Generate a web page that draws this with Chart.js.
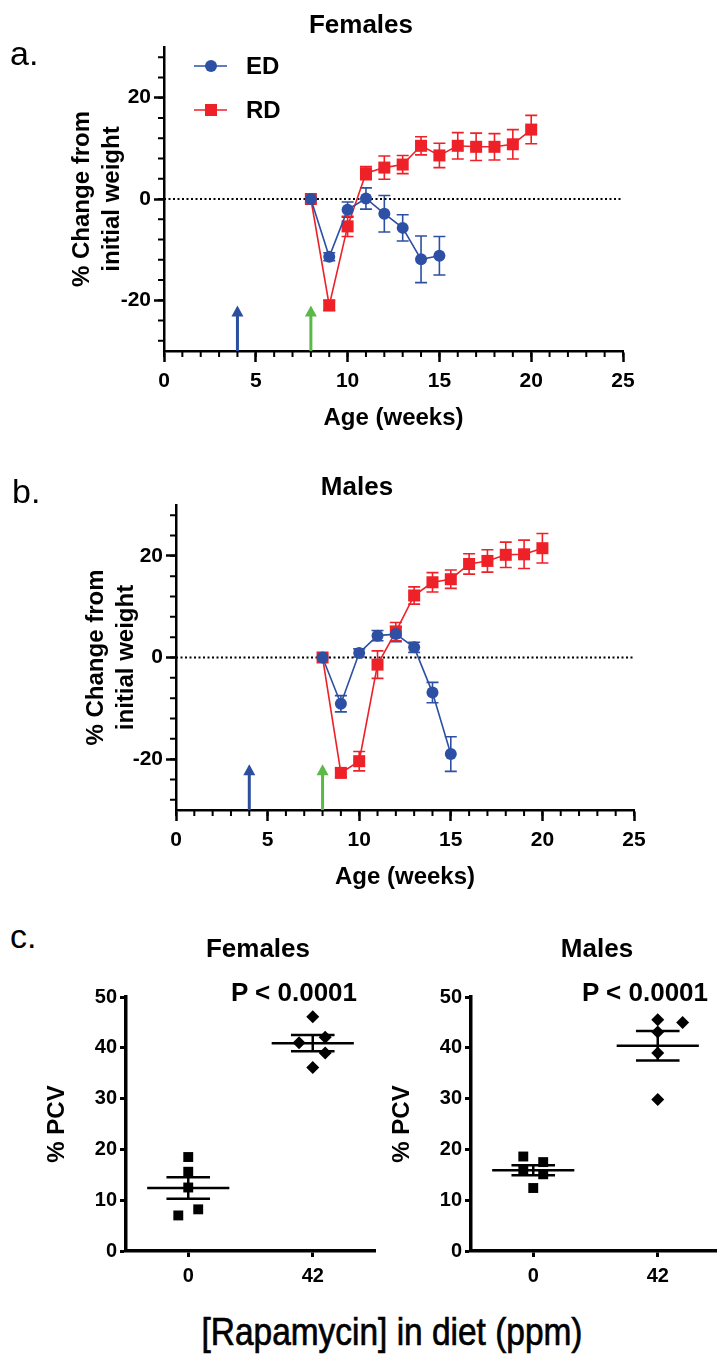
<!DOCTYPE html>
<html>
<head>
<meta charset="utf-8">
<script src="https://cdn.jsdelivr.net/npm/chart.js@4.4.0/dist/chart.umd.min.js"></script>
<style>
  html, body { margin: 0; padding: 0; background: #fff; }
  body { width: 717px; height: 1357px; position: relative; overflow: hidden; font-family: "Liberation Sans", Arial, sans-serif; color: #000; }
  canvas { position: absolute; }
  .lbl { position: absolute; line-height: 1; white-space: nowrap; }
  .panel { font-size: 34px; }
  .ttl { font-size: 26px; font-weight: bold; width: 300px; text-align: center; }
  .caption { left: 92px; top: 1313px; width: 600px; text-align: center; font-size: 38px;
             transform: scaleX(0.88); -webkit-text-stroke: 0.7px #000; }
</style>
</head>
<body>
<canvas id="femWeight" width="717" height="440" style="left:0;top:0"></canvas>
<canvas id="maleWeight" width="705" height="440" style="left:12px;top:460px"></canvas>
<canvas id="femPcv" width="380" height="340" style="left:20px;top:960px"></canvas>
<canvas id="malePcv" width="380" height="340" style="left:365px;top:960px"></canvas>

<div class="lbl panel" style="left:10px;top:36px">a.</div>
<div class="lbl ttl" style="left:211px;top:11px">Females</div>
<div class="lbl panel" style="left:12px;top:474px">b.</div>
<div class="lbl ttl" style="left:207px;top:473px">Males</div>
<div class="lbl panel" style="left:10px;top:919px">c.</div>
<div class="lbl ttl" style="left:108px;top:935px">Females</div>
<div class="lbl ttl" style="left:447px;top:935px">Males</div>
<div class="lbl ttl" style="left:144px;top:979px">P &lt; 0.0001</div>
<div class="lbl ttl" style="left:495px;top:979px">P &lt; 0.0001</div>
<div class="lbl caption">[Rapamycin] in diet (ppm)</div>

<script>
// weeks of age for each series
var edWeeks = [8, 9, 10, 11, 12, 13, 14, 15];
var rdWeeks = [8, 9, 10, 11, 12, 13, 14, 15, 16, 17, 18, 19, 20];

// % change from initial weight (mean) and SEM, females
var femaleED = [0, -11.4, -2.1, 0.1, -2.9, -5.7, -11.9, -11.2];
var femaleEDErr = [0, 0.8, 1.5, 2.1, 3.6, 2.6, 4.6, 3.8];
var femaleRD = [0, -21.0, -5.4, 5.1, 6.2, 6.8, 10.5, 8.6, 10.5, 10.3, 10.3, 10.8, 13.7];
var femaleRDErr = [0, 1.0, 2.0, 1.3, 2.3, 1.8, 1.8, 2.4, 2.6, 2.7, 2.6, 2.9, 2.8];

// same for males
var maleED = [0, -9.1, 0.9, 4.3, 4.6, 2.0, -6.9, -19.0];
var maleEDErr = [0, 1.6, 0.8, 1.0, 1.5, 1.0, 2.0, 3.4];
var maleRD = [0, -22.7, -20.4, -1.4, 5.1, 12.2, 14.8, 15.4, 18.4, 19.0, 20.2, 20.3, 21.5];
var maleRDErr = [0, 0.8, 1.9, 2.7, 1.8, 1.7, 1.9, 1.8, 2.0, 2.2, 2.5, 2.8, 2.9];

// arrows (diet start: ED at week 4, RD at week 8)
var arrowWeeks = [4, 8];
var arrowColors = ['#2a4f9e', '#5ab947'];
var arrowTip = -21;

// axis ticks for the weight panels
var ageTicks = [0, 5, 10, 15, 20, 25];
var ageMinorTicks = [0, 1, 2, 3, 4, 5, 6, 7, 8, 9, 10, 11, 12, 13, 14, 15, 16, 17, 18, 19, 20, 21, 22, 23, 24, 25];
var changeTicks = [-20, 0, 20];
var changeMinorTicks = [-28, -24, -20, -16, -12, -8, -4, 0, 4, 8, 12, 16, 20, 24, 28];

// % PCV, panel c
var doseLabels = ['0', '42'];
var pcvTicks = [0, 10, 20, 30, 40, 50];
var femaleCtrl = [18.5, 15.6, 12.5, 8.2, 7.0];
var femaleCtrlJit = [0, 0, 0, 0.08, -0.08];
var femaleRapa = [46.1, 42.1, 41.0, 39.0, 36.1];
var femaleRapaJit = [0, 0.1, -0.11, 0.1, 0];
var femaleMean = [12.4, 40.9];
var femaleSem = [2.1, 1.6];
var maleCtrl = [18.6, 17.5, 16.1, 15.1, 12.4];
var maleCtrlJit = [-0.08, 0.08, -0.08, 0.08, 0];
var maleRapa = [45.5, 45.0, 43.1, 39.0, 29.8];
var maleRapaJit = [0, 0.2, 0, 0, 0];
var maleMean = [15.9, 40.4];
var maleSem = [1.0, 2.9];

var BLUE = '#2d50a4';
var RED = '#ee2128';
var FONT = "'Liberation Sans', Arial, sans-serif";

Chart.defaults.color = '#000';
Chart.defaults.font.family = FONT;

function pts(xs, ys) {
    return xs.map(function(x, i) { return {x: x, y: ys[i]}; });
}

function fixedTicks(list) {
    return function(axis) {
        axis.ticks = list.map(function(v) { return {value: v}; });
    };
}

// vertical SEM bars for the time course
var errorBars = {
    id: 'errorBars',
    beforeDatasetsDraw: function(chart) {
        var ctx = chart.ctx;
        var ys = chart.scales.y;
        chart.data.datasets.forEach(function(ds, i) {
            if (!ds.errors) return;
            var meta = chart.getDatasetMeta(i);
            ctx.save();
            ctx.strokeStyle = ds.borderColor;
            ctx.lineWidth = 1.6;
            meta.data.forEach(function(pt, j) {
                var e = ds.errors[j];
                if (!e) return;
                var v = ds.data[j].y;
                var top = ys.getPixelForValue(v + e);
                var bot = ys.getPixelForValue(v - e);
                ctx.beginPath();
                ctx.moveTo(pt.x, top); ctx.lineTo(pt.x, bot);
                ctx.moveTo(pt.x - 6, top); ctx.lineTo(pt.x + 6, top);
                ctx.moveTo(pt.x - 6, bot); ctx.lineTo(pt.x + 6, bot);
                ctx.stroke();
            });
            ctx.restore();
        });
    }
};

// up arrows marking diet start
var arrows = {
    id: 'arrows',
    afterDatasetsDraw: function(chart) {
        var ctx = chart.ctx;
        var xs = chart.scales.x, ys = chart.scales.y;
        arrowWeeks.forEach(function(w, i) {
            var x = xs.getPixelForValue(w);
            var y0 = ys.getPixelForValue(ys.min);
            var yt = ys.getPixelForValue(arrowTip);
            ctx.save();
            ctx.strokeStyle = arrowColors[i];
            ctx.fillStyle = arrowColors[i];
            ctx.lineWidth = 3;
            ctx.beginPath();
            ctx.moveTo(x, y0); ctx.lineTo(x, yt + 8);
            ctx.stroke();
            ctx.beginPath();
            ctx.moveTo(x, yt); ctx.lineTo(x - 6, yt + 11); ctx.lineTo(x + 6, yt + 11);
            ctx.closePath();
            ctx.fill();
            ctx.restore();
        });
    }
};

// minor tick marks along both axes (every week, every 4 %)
var minorTicks = {
    id: 'minorTicks',
    afterDraw: function(chart) {
        var ctx = chart.ctx;
        var xs = chart.scales.x, ys = chart.scales.y;
        var a = chart.chartArea;
        ctx.save();
        ctx.strokeStyle = '#000';
        ctx.lineWidth = 2;
        ctx.beginPath();
        ageMinorTicks.forEach(function(v) {
            var x = xs.getPixelForValue(v);
            ctx.moveTo(x, a.bottom); ctx.lineTo(x, a.bottom + 6);
        });
        changeMinorTicks.forEach(function(v) {
            var y = ys.getPixelForValue(v);
            ctx.moveTo(a.left, y); ctx.lineTo(a.left - 6, y);
        });
        ctx.stroke();
        ctx.restore();
    }
};

// ED / RD key inside the top left of the plot
var seriesKey = {
    id: 'seriesKey',
    afterDatasetsDraw: function(chart) {
        var ctx = chart.ctx;
        var a = chart.chartArea;
        [0, 1].forEach(function(i) {
            var ds = chart.data.datasets[i];
            var y = a.top + 19 + i * 44;
            ctx.save();
            ctx.strokeStyle = ds.borderColor;
            ctx.lineWidth = 1.6;
            ctx.beginPath();
            ctx.moveTo(a.left + 30, y); ctx.lineTo(a.left + 63, y);
            ctx.stroke();
            ctx.fillStyle = ds.backgroundColor;
            Chart.helpers.drawPoint(ctx, {pointStyle: ds.pointStyle, radius: ds.pointRadius, rotation: 0, borderWidth: 0}, a.left + 47, y);
            ctx.fillStyle = '#000';
            ctx.font = 'bold 24px ' + FONT;
            ctx.textBaseline = 'middle';
            ctx.fillText(ds.label, a.left + 82, y + 1);
            ctx.restore();
        });
    }
};

// mean line with SEM whiskers for panel c
var meanSem = {
    id: 'meanSem',
    afterDatasetsDraw: function(chart, args, opts) {
        var ctx = chart.ctx;
        var xs = chart.scales.x, ys = chart.scales.y;
        ctx.save();
        ctx.strokeStyle = '#000';
        ctx.lineWidth = 2.5;
        opts.means.forEach(function(m, k) {
            var s = opts.sems[k];
            var ym = ys.getPixelForValue(m);
            var yh = ys.getPixelForValue(m + s);
            var yl = ys.getPixelForValue(m - s);
            var xc = xs.getPixelForValue(k);
            ctx.beginPath();
            ctx.moveTo(xs.getPixelForValue(k - 0.33), ym); ctx.lineTo(xs.getPixelForValue(k + 0.33), ym);
            ctx.moveTo(xs.getPixelForValue(k - 0.175), yh); ctx.lineTo(xs.getPixelForValue(k + 0.175), yh);
            ctx.moveTo(xs.getPixelForValue(k - 0.175), yl); ctx.lineTo(xs.getPixelForValue(k + 0.175), yl);
            ctx.moveTo(xc, yh); ctx.lineTo(xc, yl);
            ctx.stroke();
        });
        ctx.restore();
    }
};

function timeChart(id, ed, edErr, rd, rdErr, g, withKey) {
    var plugins = [errorBars, arrows, minorTicks];
    if (withKey) plugins.push(seriesKey);
    return new Chart(document.getElementById(id), {
        type: 'scatter',
        data: {
            datasets: [{
                label: 'ED', data: pts(edWeeks, ed), errors: edErr, showLine: true,
                borderColor: BLUE, backgroundColor: BLUE, borderWidth: 1.6,
                pointStyle: 'circle', pointRadius: 6, pointHoverRadius: 6, pointBorderWidth: 0, order: 1
            }, {
                label: 'RD', data: pts(rdWeeks, rd), errors: rdErr, showLine: true,
                borderColor: RED, backgroundColor: RED, borderWidth: 1.6,
                pointStyle: 'rect', pointRadius: 8.5, pointHoverRadius: 8.5, pointBorderWidth: 0, order: 2
            }, {
                label: 'zero', data: [{x: 0, y: 0}, {x: 25, y: 0}], showLine: true,
                borderColor: '#000', borderWidth: 2, borderDash: [2, 2.5], pointRadius: 0, order: 3
            }]
        },
        options: {
            responsive: false,
            animation: false,
            layout: {padding: {top: g.top, right: g.right, left: 0, bottom: 0}},
            plugins: {legend: {display: false}, tooltip: {enabled: false}},
            scales: {
                x: {
                    type: 'linear', min: 0, max: 25,
                    afterBuildTicks: fixedTicks(ageTicks),
                    afterFit: function(s) { s.height = g.xh; },
                    grid: {drawOnChartArea: false, tickLength: 11, tickWidth: 2.5, tickColor: '#000'},
                    border: {color: '#000', width: 2.5},
                    ticks: {color: '#000', padding: 7, maxRotation: 0, autoSkip: false, font: {size: 21, weight: 'bold'}},
                    title: {display: true, text: 'Age (weeks)', color: '#000',
                        font: {size: 24, weight: 'bold', lineHeight: 1.2}, padding: {top: 0, bottom: g.xtb}}
                },
                y: {
                    type: 'linear', min: -30, max: 30,
                    afterBuildTicks: fixedTicks(changeTicks),
                    afterFit: function(s) { s.width = g.yw; },
                    grid: {drawOnChartArea: false, tickLength: 10, tickWidth: 2.5, tickColor: '#000'},
                    border: {color: '#000', width: 2.5},
                    ticks: {color: '#000', padding: 3, font: {size: 21, weight: 'bold'}},
                    title: {display: true, text: ['% Change from', 'initial weight'], color: '#000',
                        font: {size: 24, weight: 'bold', lineHeight: 1.25}, padding: {top: g.ytp, bottom: 0}}
                }
            }
        },
        plugins: plugins
    });
}

function pcvChart(id, ctrl, ctrlJit, rapa, rapaJit, means, sems) {
    return new Chart(document.getElementById(id), {
        type: 'scatter',
        data: {
            datasets: [{
                label: '0 ppm', data: ctrl.map(function(v, i) { return {x: 0 + ctrlJit[i], y: v}; }),
                backgroundColor: '#000', borderColor: '#000', pointStyle: 'rect',
                pointRadius: 7, pointHoverRadius: 7, pointBorderWidth: 0
            }, {
                label: '42 ppm', data: rapa.map(function(v, i) { return {x: 1 + rapaJit[i], y: v}; }),
                backgroundColor: '#000', borderColor: '#000', pointStyle: 'rectRot',
                pointRadius: 6.5, pointHoverRadius: 6.5, pointBorderWidth: 0
            }]
        },
        options: {
            responsive: false,
            animation: false,
            layout: {padding: {top: 37, right: 25, left: 0, bottom: 0}},
            plugins: {legend: {display: false}, tooltip: {enabled: false}, meanSem: {means: means, sems: sems}},
            scales: {
                x: {
                    type: 'linear', min: -0.5, max: 1.5,
                    afterBuildTicks: fixedTicks([0, 1]),
                    afterFit: function(s) { s.height = 49; },
                    grid: {drawOnChartArea: false, tickLength: 6, tickWidth: 3, tickColor: '#000'},
                    border: {color: '#000', width: 3.5},
                    ticks: {color: '#000', padding: 7, maxRotation: 0, font: {size: 20, weight: 'bold'},
                        callback: function(v) { return doseLabels[v]; }}
                },
                y: {
                    type: 'linear', min: 0, max: 50,
                    afterBuildTicks: fixedTicks(pcvTicks),
                    afterFit: function(s) { s.width = 106; },
                    grid: {drawOnChartArea: false, tickLength: 6, tickWidth: 3, tickColor: '#000'},
                    border: {color: '#000', width: 3.5},
                    ticks: {color: '#000', padding: 3, font: {size: 20, weight: 'bold'}},
                    title: {display: true, text: '% PCV', color: '#000',
                        font: {size: 24, weight: 'bold', lineHeight: 1.25}, padding: {top: 22, bottom: 0}}
                }
            }
        },
        plugins: [meanSem]
    });
}

timeChart('femWeight', femaleED, femaleEDErr, femaleRD, femaleRDErr,
    {top: 47, right: 94, yw: 164, xh: 89, ytp: 67, xtb: 7.6}, true);
timeChart('maleWeight', maleED, maleEDErr, maleRD, maleRDErr,
    {top: 45, right: 83, yw: 164, xh: 90, ytp: 69, xtb: 8.6}, false);
pcvChart('femPcv', femaleCtrl, femaleCtrlJit, femaleRapa, femaleRapaJit, femaleMean, femaleSem);
pcvChart('malePcv', maleCtrl, maleCtrlJit, maleRapa, maleRapaJit, maleMean, maleSem);
</script>
</body>
</html>
